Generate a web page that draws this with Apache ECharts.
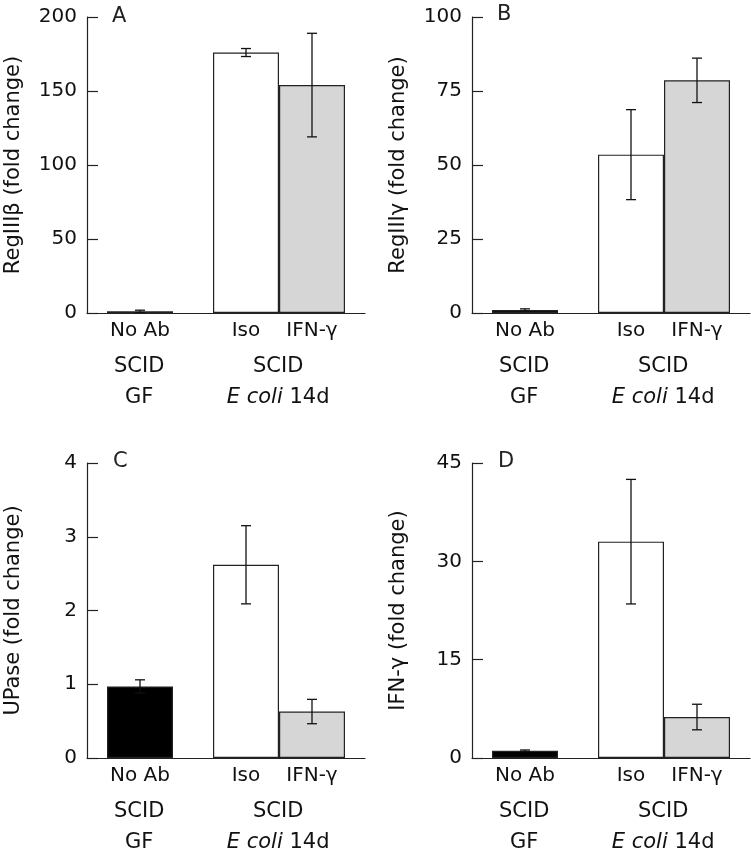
<!DOCTYPE html>
<html>
<head>
<meta charset="utf-8">
<script src="https://cdn.jsdelivr.net/npm/echarts@6/dist/echarts.min.js"></script>
<style>
html,body{margin:0;padding:0;background:#fff;}
#chart{width:751px;height:853px;}
</style>
</head>
<body>
<div id="chart"></div>
<script>
// ---- data ----
const categories = ['No Ab', 'Iso', 'IFN-γ'];
const groupLabels = ['{r|SCID}\n{r|GF}', '{r|SCID}\n{i|E coli}{r| 14d}'];
const panelLetters = ['A', 'B', 'C', 'D'];
const yTitles = ['RegIIIβ (fold change)', 'RegIIIγ (fold change)', 'UPase (fold change)', 'IFN-γ (fold change)'];
const yMax = [200, 100, 4, 45];
const yInterval = [50, 25, 1, 15];
const valuesA = [1.1, 176, 154];
const errorsA = [0.8, 2.7, 35];
const valuesB = [1.0, 53.5, 78.6];
const errorsB = [0.4, 15.2, 7.5];
const valuesC = [0.97, 2.62, 0.63];
const errorsC = [0.09, 0.53, 0.165];
const valuesD = [1.1, 33.0, 6.25];
const errorsD = [0.12, 9.5, 1.95];

// ---- layout / style ----
const FONT = 'DejaVu Sans';
const INK = '#222';
const barColors = ['#000000', '#ffffff', '#d6d6d6'];
const BAR_W = 66, GAP_W = 40;
const grids = [
  {left: 87, top: 17, width: 278, height: 296},
  {left: 472, top: 17, width: 278, height: 296},
  {left: 87, top: 463, width: 278, height: 297},
  {left: 472, top: 463, width: 278, height: 297}
];
const letterPos = [[112, 6], [497, 4], [113, 451], [498, 451]];
const panelValues = [valuesA, valuesB, valuesC, valuesD];
const panelErrors = [errorsA, errorsB, errorsC, errorsD];

// bar-centre offsets from the category centre (NoAb | gap | Iso | IFN)
const widths = [BAR_W, GAP_W, BAR_W, BAR_W];
const total = widths.reduce((a, b) => a + b, 0);
const centres = [];
{ let s = -total / 2; widths.forEach(w => { centres.push(s + w / 2); s += w; }); }
const barOffsets = [centres[0], centres[2], centres[3]];

const option = {
  animation: false,
  backgroundColor: '#fff',
  textStyle: {fontFamily: FONT},
  title: panelLetters.map((t, i) => ({
    text: t, left: letterPos[i][0], top: letterPos[i][1], padding: 0,
    textStyle: {fontFamily: FONT, fontSize: 21, fontWeight: 'normal', color: INK}
  })),
  grid: grids,
  xAxis: [],
  yAxis: [],
  series: []
};

grids.forEach((g, p) => {
  // visible axis carrying the group labels (8 slots)
  const slots = new Array(8).fill('');
  slots[1] = groupLabels[0];
  slots[5] = groupLabels[1];
  option.xAxis.push({
    type: 'category', gridIndex: p, data: slots, position: 'bottom',
    axisLine: {show: true, lineStyle: {color: INK, width: 1.2}},
    axisTick: {show: false},
    axisLabel: {
      interval: 0, margin: 38, color: '#111',
      formatter: v => v,
      rich: {
        r: {fontFamily: FONT, fontSize: 21, lineHeight: 31, color: '#111'},
        i: {fontFamily: FONT, fontSize: 21, lineHeight: 31, fontStyle: 'italic', color: '#111'}
      }
    },
    splitLine: {show: false}
  });
  // hidden axis on which the bars are laid out
  option.xAxis.push({
    type: 'category', gridIndex: p, data: ['all'], show: false, position: 'bottom'
  });
  option.yAxis.push({
    type: 'value', gridIndex: p, min: 0, max: yMax[p], interval: yInterval[p],
    name: yTitles[p], nameLocation: 'middle', nameRotate: 90, nameGap: 63,
    nameTextStyle: {fontFamily: FONT, fontSize: 21, color: '#111'},
    axisLine: {show: true, lineStyle: {color: INK, width: 1.2}},
    axisTick: {show: true, inside: true, length: 11, lineStyle: {color: INK, width: 1.2}},
    axisLabel: {fontFamily: FONT, fontSize: 20, color: '#111', margin: 10},
    splitLine: {show: false}
  });
  const xBar = p * 2 + 1;
  const vals = panelValues[p];
  const errs = panelErrors[p];
  const mk = (k, name, value, width) => ({
    type: 'bar', name: name, xAxisIndex: xBar, yAxisIndex: p,
    data: [value], barWidth: width, barGap: '0%',
    itemStyle: {color: k >= 0 ? barColors[k] : 'transparent', borderColor: k >= 0 ? INK : 'transparent', borderWidth: k >= 0 ? 1.2 : 0},
    label: k >= 0 ? {
      show: true, position: 'bottom', distance: 8,
      formatter: () => name, fontFamily: FONT, fontSize: 20, color: '#111'
    } : {show: false},
    silent: true
  });
  option.series.push(mk(0, categories[0], vals[0], BAR_W));
  option.series.push(mk(-1, 'gap', '-', GAP_W));
  option.series.push(mk(1, categories[1], vals[1], BAR_W));
  option.series.push(mk(2, categories[2], vals[2], BAR_W));
  // error bars
  option.series.push({
    type: 'custom', xAxisIndex: xBar, yAxisIndex: p, z: 10, silent: true,
    encode: {x: 0, y: [1, 2]},
    data: vals.map((v, i) => [0, v - errs[i], v + errs[i]]),
    renderItem: (params, api) => {
      const i = params.dataIndex;
      const lo = api.coord([0, api.value(1)]);
      const hi = api.coord([0, api.value(2)]);
      const x = lo[0] + barOffsets[i];
      const cap = 5;
      const st = {stroke: '#111', lineWidth: 1.3};
      return {type: 'group', children: [
        {type: 'line', shape: {x1: x, y1: lo[1], x2: x, y2: hi[1]}, style: st},
        {type: 'line', shape: {x1: x - cap, y1: lo[1], x2: x + cap, y2: lo[1]}, style: st},
        {type: 'line', shape: {x1: x - cap, y1: hi[1], x2: x + cap, y2: hi[1]}, style: st}
      ]};
    }
  });
});

const chart = echarts.init(document.getElementById('chart'), null, {renderer: 'canvas'});
chart.setOption(option);
</script>
</body>
</html>
